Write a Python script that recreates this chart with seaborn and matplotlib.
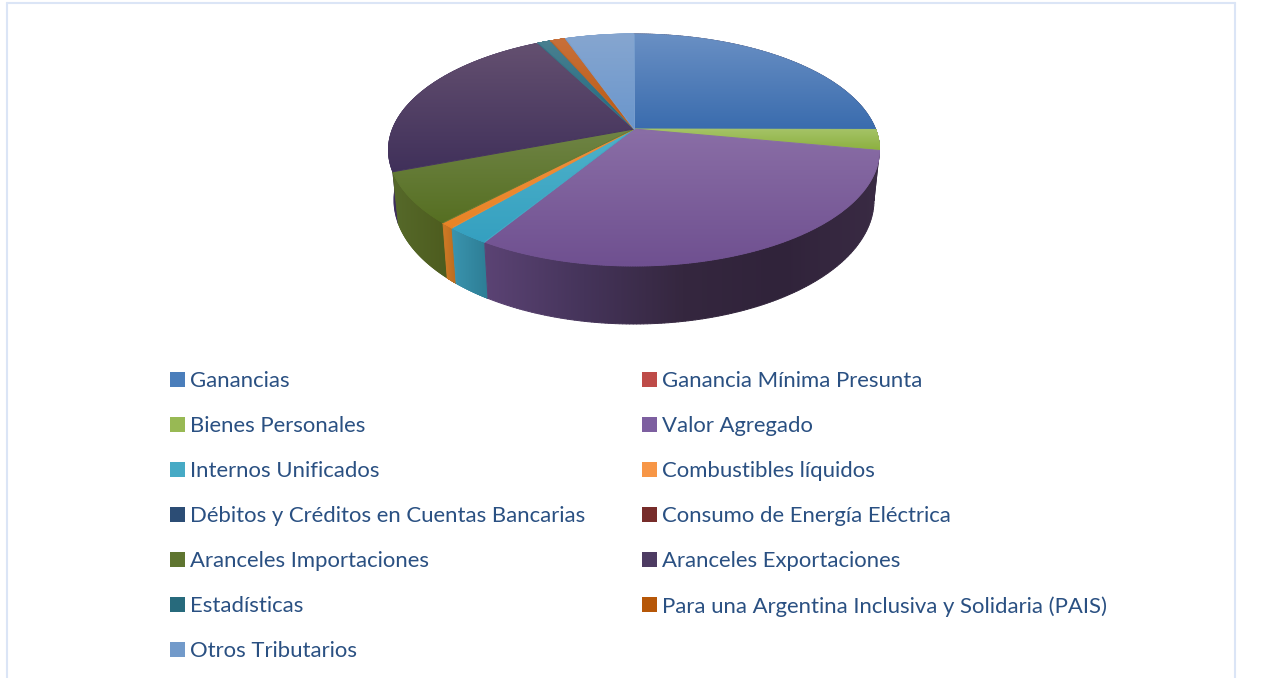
import numpy as np
import matplotlib
matplotlib.use("Agg")
import matplotlib.pyplot as plt
from matplotlib.patches import Polygon, Patch
from matplotlib.collections import LineCollection
import seaborn as sns

categories = ["Ganancias", "Ganancia Mínima Presunta", "Bienes Personales", "Valor Agregado",
              "Internos Unificados", "Combustibles líquidos",
              "Débitos y Créditos en Cuentas Bancarias", "Consumo de Energía Eléctrica",
              "Aranceles Importaciones", "Aranceles Exportaciones", "Estadísticas",
              "Para una Argentina Inclusiva y Solidaria (PAIS)", "Otros Tributarios"]
values = [25.1, 0.0, 2.9, 30.85, 2.5, 0.8, 0.0, 0.0, 7.15, 23.2, 1.05, 1.2, 5.4]

legend_colors = ["#4a7ebb", "#be4b48", "#98b954", "#7d5fa0", "#46aac5", "#f79646",
                 "#2c4d75", "#772c2a", "#5f7530", "#4d3b62", "#276a7c", "#b65708", "#729aca"]
top_light = ["#6a90c4", "#c05a58", "#a6c468", "#8a6ea6", "#4fb2ca", "#f09040",
             "#2c4d75", "#772c2a", "#6f8445", "#645070", "#4a8090", "#c8703a", "#86a6d0"]
top_dark = ["#3a6cae", "#a83c3a", "#8cb040", "#6f5090", "#35a0c0", "#e88426",
            "#2c4d75", "#772c2a", "#566f22", "#40305a", "#1f6a80", "#bb5a10", "#6a96cc"]
side_stops = {3: ["#5b4374", "#45345a", "#35273f", "#30233a", "#3a2b44"],
              4: ["#3a94ae", "#2d7d95"], 5: ["#d07a25", "#b86c20"],
              8: ["#56692a", "#4d5c1e"], 9: ["#3b2b5c", "#3b2b5c"],
              0: ["#3a2b44", "#3a2b44"], 2: ["#3a2b44", "#3a2b44"]}

sns.set_theme(style="white")
plt.rcParams["font.family"] = ["Lato", "DejaVu Sans"]

W, H = 1263, 678
fig = plt.figure(figsize=(W / 100, H / 100), dpi=100)
ax = fig.add_axes([0, 0, 1, 1])
ax.set_axis_off()

# projected disc: top and bottom ellipses, apex is the projected disc centre
CX, TOP_Y, TOP_RX, TOP_RY = 634, 150, 245.5, 116
BOT_Y, BOT_RX, BOT_RY = 200, 240, 124
APEX = (CX, 129)
a = (TOP_Y - APEX[1]) / TOP_RY


def rim(theta):
    """Perspective map of disc angle (clockwise from 12 o'clock) to unit circle."""
    u, v = np.sin(theta), np.cos(theta)
    d = 1 + a * v
    return u * np.sqrt(1 - a ** 2) / d, (v + a) / d


def gradient(stops, extent, clip, horizontal=False):
    rgb = np.array(sns.blend_palette(stops, 256))
    img = rgb[None, :, :] if horizontal else rgb[:, None, :]
    im = ax.imshow(img, extent=extent, origin="upper", aspect="auto", interpolation="bilinear",
                   zorder=clip.get_zorder())
    ax.add_patch(clip)
    clip.set_visible(False)
    im.set_clip_path(clip)
    # soft edge that follows the gradient
    closed = np.vstack([clip.get_xy()])
    segs = np.stack([closed[:-1], closed[1:]], axis=1)
    pos = segs.mean(axis=1)[:, 0 if horizontal else 1]
    lo, hi = (extent[0], extent[1]) if horizontal else (extent[3], extent[2])
    idx = np.clip(((pos - lo) / max(hi - lo, 1e-6) * 255).astype(int), 0, 255)
    ax.add_collection(LineCollection(segs, colors=rgb[idx], linewidths=0.7,
                                     zorder=clip.get_zorder(), capstyle="round"))


fracs = np.array(values) / np.sum(values)
ends = np.cumsum(fracs) * 2 * np.pi
starts = ends - fracs * 2 * np.pi

# side walls, back to front
walls = []
for i in range(len(values)):
    if values[i] <= 0:
        continue
    t = np.linspace(starts[i], ends[i], 160)
    u, v = rim(t)
    xt, yt = CX + TOP_RX * u, TOP_Y - TOP_RY * v
    xb, yb = CX + BOT_RX * u, BOT_Y - BOT_RY * v
    walls.append((yb.max(), i, np.column_stack([np.r_[xt, xb[::-1]], np.r_[yt, yb[::-1]]])))
for order_z, (_, i, pts) in enumerate(sorted(walls, key=lambda w: w[0])):
    stops = side_stops.get(i, [top_dark[i], top_dark[i]])
    gradient(stops, (pts[:, 0].min(), pts[:, 0].max(), pts[:, 1].max(), pts[:, 1].min()),
             Polygon(pts, closed=True, zorder=2 + 0.01 * order_z), horizontal=True)

# top surface
for i in range(len(values)):
    if values[i] <= 0:
        continue
    t = np.linspace(starts[i], ends[i], 240)
    u, v = rim(t)
    pts = np.column_stack([np.r_[APEX[0], CX + TOP_RX * u], np.r_[APEX[1], TOP_Y - TOP_RY * v]])
    gradient([top_light[i], top_dark[i]],
             (pts[:, 0].min(), pts[:, 0].max(), pts[:, 1].max(), pts[:, 1].min()),
             Polygon(pts, closed=True, zorder=3 + 0.01 * i))

# frame of the chart object
frame = "#dbe5f6"
ax.plot([7, 7], [3, H], color=frame, lw=1.5, zorder=1)
ax.plot([7, 1235], [3, 3], color=frame, lw=1.5, zorder=1)
ax.plot([1235, 1235], [3, H], color=frame, lw=1.5, zorder=1)

ax.set_xlim(0, W)
ax.set_ylim(H, 0)

# legend: filled row by row in the reference, so list it column by column here
order = list(range(0, len(categories), 2)) + list(range(1, len(categories), 2))
handles = [Patch(facecolor=legend_colors[i], edgecolor="none", label=categories[i]) for i in order]
FS = 15.95
fpx = FS * 100 / 72
leg = ax.legend(handles=handles, ncols=2, loc="upper left", bbox_to_anchor=(170 / W, 1 - 371 / H),
                bbox_transform=ax.transAxes, frameon=False, fontsize=FS, borderaxespad=0, borderpad=0,
                handlelength=15 / fpx, handleheight=0.65, handletextpad=5 / fpx,
                labelspacing=25.0 / fpx, columnspacing=57 / fpx, labelcolor="#2a5082")

fig.savefig("out.png", dpi=100)
